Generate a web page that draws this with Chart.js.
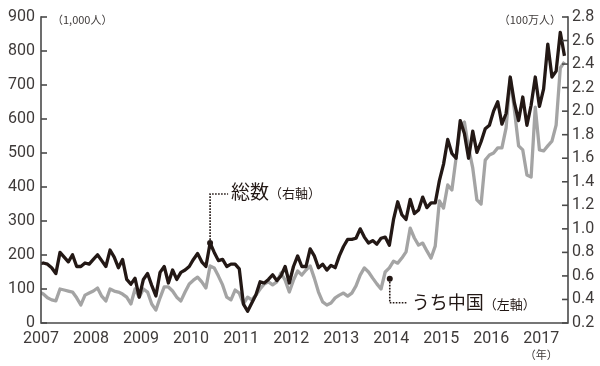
<!DOCTYPE html>
<html>
<head>
<meta charset="utf-8">
<script src="https://cdn.jsdelivr.net/npm/chart.js@4.4.1/dist/chart.umd.min.js"></script>
<style>
  html, body { margin: 0; padding: 0; background: #ffffff; }
  #wrap { width: 600px; height: 366px; position: relative; }
</style>
</head>
<body>
<div id="wrap"><canvas id="c" width="600" height="366"></canvas></div>
<script>
// ---------------- data (monthly, Jan 2007 = index 0 ... Aug 2017 = index 127) ----------------
const yearLabels = ['2007','2008','2009','2010','2011','2012','2013','2014','2015','2016','2017'];

// 総数 (right axis, million people)
const totalMillions = [
  0.69,0.70,0.71,0.70,0.67,0.62,0.80,0.76,0.72,0.78,0.68,0.68,   // 2007
  0.71,0.70,0.74,0.78,0.73,0.68,0.82,0.76,0.67,0.74,0.57,0.53,   // 2008
  0.58,0.42,0.57,0.62,0.52,0.43,0.63,0.68,0.54,0.65,0.57,0.63,   // 2009
  0.65,0.68,0.74,0.79,0.72,0.68,0.88,0.80,0.73,0.74,0.68,0.70,   // 2010
  0.70,0.66,0.36,0.30,0.37,0.44,0.55,0.54,0.57,0.61,0.56,0.60,   // 2011
  0.68,0.54,0.68,0.77,0.68,0.68,0.83,0.77,0.67,0.70,0.65,0.69,   // 2012
  0.67,0.77,0.85,0.91,0.91,0.92,1.00,0.93,0.88,0.90,0.87,0.92,   // 2013
  0.93,0.86,1.08,1.23,1.12,1.08,1.25,1.13,1.16,1.27,1.18,1.22,   // 2014
  1.22,1.41,1.55,1.76,1.64,1.60,1.92,1.81,1.60,1.83,1.65,1.74,   // 2015
  1.85,1.88,2.00,2.08,1.89,1.98,2.29,2.07,1.92,2.12,1.88,2.05,   // 2016
  2.29,2.04,2.19,2.57,2.29,2.34,2.67,2.47                        // 2017
];

// うち中国 (left axis, thousand people)
const chinaThousands = [
  91,91,85,74,68,65,100,97,94,91,74,53,          // 2007
  82,88,94,103,79,65,100,94,91,85,76,56,         // 2008
  100,76,100,91,56,38,74,106,106,94,76,65,       // 2009
  91,115,126,135,121,103,168,162,138,112,76,68,  // 2010
  97,88,56,76,68,82,100,115,121,112,121,147,     // 2011
  126,91,126,153,141,156,168,132,91,62,53,59,    // 2012
  74,82,88,79,88,109,141,162,150,132,115,100,    // 2013
  150,162,182,176,191,209,279,250,229,235,212,191, // 2014
  226,359,338,406,391,485,579,591,515,456,362,350, // 2015
  479,494,500,515,515,574,721,626,521,509,435,429, // 2016
  635,509,506,521,535,582,750,768                // 2017
];

const leftTicks  = [0,100,200,300,400,500,600,700,800,900];
const rightTicks = [0.2,0.4,0.6,0.8,1.0,1.2,1.4,1.6,1.8,2.0,2.2,2.4,2.6,2.8];

const leftUnit  = '（1,000人）';
const rightUnit = '（100万人）';
const xUnit     = '（年）';
const totalLabel = ['総数', '（右軸）'];
const chinaLabel = ['うち中国', '（左軸）'];
const totalNoteIndex = 42;           // Jul 2010 peak
const chinaNote = { index: 85.1, value: 130 };

// ---------------- view settings ----------------
const X_MIN = 1.44, X_MAX = 127.85;
const INK = '#231815';
const GRAY = '#a4a4a4';
const AXIS = '#4a4a4a';
const TICK_TXT = '#3e3a39';
const CJK = '"Noto Sans CJK JP", "Noto Sans CJK SC", sans-serif';

const toPoints = arr => arr.map((v, i) => ({ x: i, y: v }));

const decorPlugin = {
  id: 'decor',
  beforeDraw(chart) {
    const c = chart.ctx;
    c.save();
    c.fillStyle = '#ffffff';
    c.fillRect(0, 0, chart.width, chart.height);
    c.restore();
  },
  afterDatasetsDraw(chart) {
    const c = chart.ctx, a = chart.chartArea;
    const xs = chart.scales.x, yl = chart.scales.y, yr = chart.scales.y1;
    c.save();
    // axes
    c.strokeStyle = AXIS; c.lineWidth = 1.6; c.lineCap = 'square';
    c.beginPath();
    c.moveTo(a.left, a.top); c.lineTo(a.left, a.bottom); c.lineTo(a.right, a.bottom); c.lineTo(a.right, a.top);
    c.stroke();
    c.lineCap = 'butt';
    leftTicks.forEach(v => { const py = yl.getPixelForValue(v); c.beginPath(); c.moveTo(a.left, py); c.lineTo(a.left + 6, py); c.stroke(); });
    rightTicks.forEach(v => { const py = yr.getPixelForValue(v); c.beginPath(); c.moveTo(a.right - 6, py); c.lineTo(a.right, py); c.stroke(); });

    // unit labels
    c.fillStyle = TICK_TXT;
    c.font = '11px ' + CJK;
    c.textBaseline = 'middle';
    c.textAlign = 'left';
    c.fillText(leftUnit, a.left + 11, yl.getPixelForValue(900) + 3);
    c.textAlign = 'right';
    c.fillText(rightUnit, a.right - 7, yr.getPixelForValue(2.8) + 3);
    c.textAlign = 'center';
    c.fillText(xUnit, xs.getPixelForValue(X_MIN + 120), a.bottom + 32);

    // annotation: 総数
    c.fillStyle = INK; c.strokeStyle = INK;
    let mx = xs.getPixelForValue(totalNoteIndex), my = yr.getPixelForValue(totalMillions[totalNoteIndex]);
    c.beginPath(); c.arc(mx, my, 3, 0, Math.PI * 2); c.fill();
    c.lineWidth = 1.6; c.setLineDash([1.6, 1.4]);
    c.beginPath(); c.moveTo(mx, my); c.lineTo(mx, my - 49); c.lineTo(mx + 18, my - 49); c.stroke();
    c.setLineDash([]);
    c.textAlign = 'left'; c.textBaseline = 'middle';
    c.font = '19px ' + CJK;
    let tx = mx + 21;
    c.fillText(totalLabel[0], tx, my - 51);
    tx += c.measureText(totalLabel[0]).width;
    c.font = '13px ' + CJK;
    c.fillText(totalLabel[1], tx, my - 50);

    // annotation: うち中国
    mx = xs.getPixelForValue(chinaNote.index); my = yl.getPixelForValue(chinaNote.value);
    c.beginPath(); c.arc(mx, my, 3, 0, Math.PI * 2); c.fill();
    c.setLineDash([1.6, 1.4]);
    c.beginPath(); c.moveTo(mx, my); c.lineTo(mx, my + 24); c.lineTo(mx + 18, my + 24); c.stroke();
    c.setLineDash([]);
    c.font = '18px ' + CJK;
    tx = mx + 22;
    c.fillText(chinaLabel[0], tx, my + 23);
    tx += c.measureText(chinaLabel[0]).width;
    c.font = '13px ' + CJK;
    c.fillText(chinaLabel[1], tx, my + 25);
    c.restore();
  }
};

const tickFont = { family: 'Roboto, "Open Sans", sans-serif', size: 16 };

new Chart(document.getElementById('c'), {
  type: 'line',
  data: {
    datasets: [
      { label: '総数', data: toPoints(totalMillions), yAxisID: 'y1', borderColor: INK, borderWidth: 3.3,
        pointRadius: 0, tension: 0, borderJoinStyle: 'round', clip: { left: 0, top: 10, right: 0, bottom: 10 } },
      { label: 'うち中国', data: toPoints(chinaThousands), yAxisID: 'y', borderColor: GRAY, borderWidth: 3.3,
        pointRadius: 0, tension: 0, borderJoinStyle: 'round', clip: { left: 0, top: 10, right: 0, bottom: 10 } }
    ]
  },
  options: {
    responsive: false,
    devicePixelRatio: 1,
    animation: false,
    events: [],
    layout: { padding: { top: 17, left: 0, right: 0, bottom: 0 } },
    plugins: { legend: { display: false }, tooltip: { enabled: false } },
    scales: {
      x: {
        type: 'linear', min: X_MIN, max: X_MAX,
        grid: { display: false, drawTicks: false }, border: { display: false },
        afterBuildTicks: s => { s.ticks = yearLabels.map((_, k) => ({ value: X_MIN + 12 * k })); },
        afterFit: s => { s.height = 43; },
        ticks: { autoSkip: false, maxRotation: 0, padding: 6, color: TICK_TXT, font: tickFont,
                 callback: (v, i) => yearLabels[i] }
      },
      y: {
        position: 'left', min: 0, max: 900,
        grid: { display: false, drawTicks: false }, border: { display: false },
        afterBuildTicks: s => { s.ticks = leftTicks.map(v => ({ value: v })); },
        afterFit: s => { s.width = 41; },
        ticks: { padding: 6, color: TICK_TXT, font: tickFont, callback: v => String(v) }
      },
      y1: {
        position: 'right', min: 0.2, max: 2.8,
        grid: { display: false, drawTicks: false }, border: { display: false },
        afterBuildTicks: s => { s.ticks = rightTicks.map(v => ({ value: v })); },
        afterFit: s => { s.width = 32; },
        ticks: { padding: 4, color: TICK_TXT, font: tickFont, callback: v => Number(v).toFixed(1) }
      }
    }
  },
  plugins: [decorPlugin]
});
</script>
</body>
</html>
